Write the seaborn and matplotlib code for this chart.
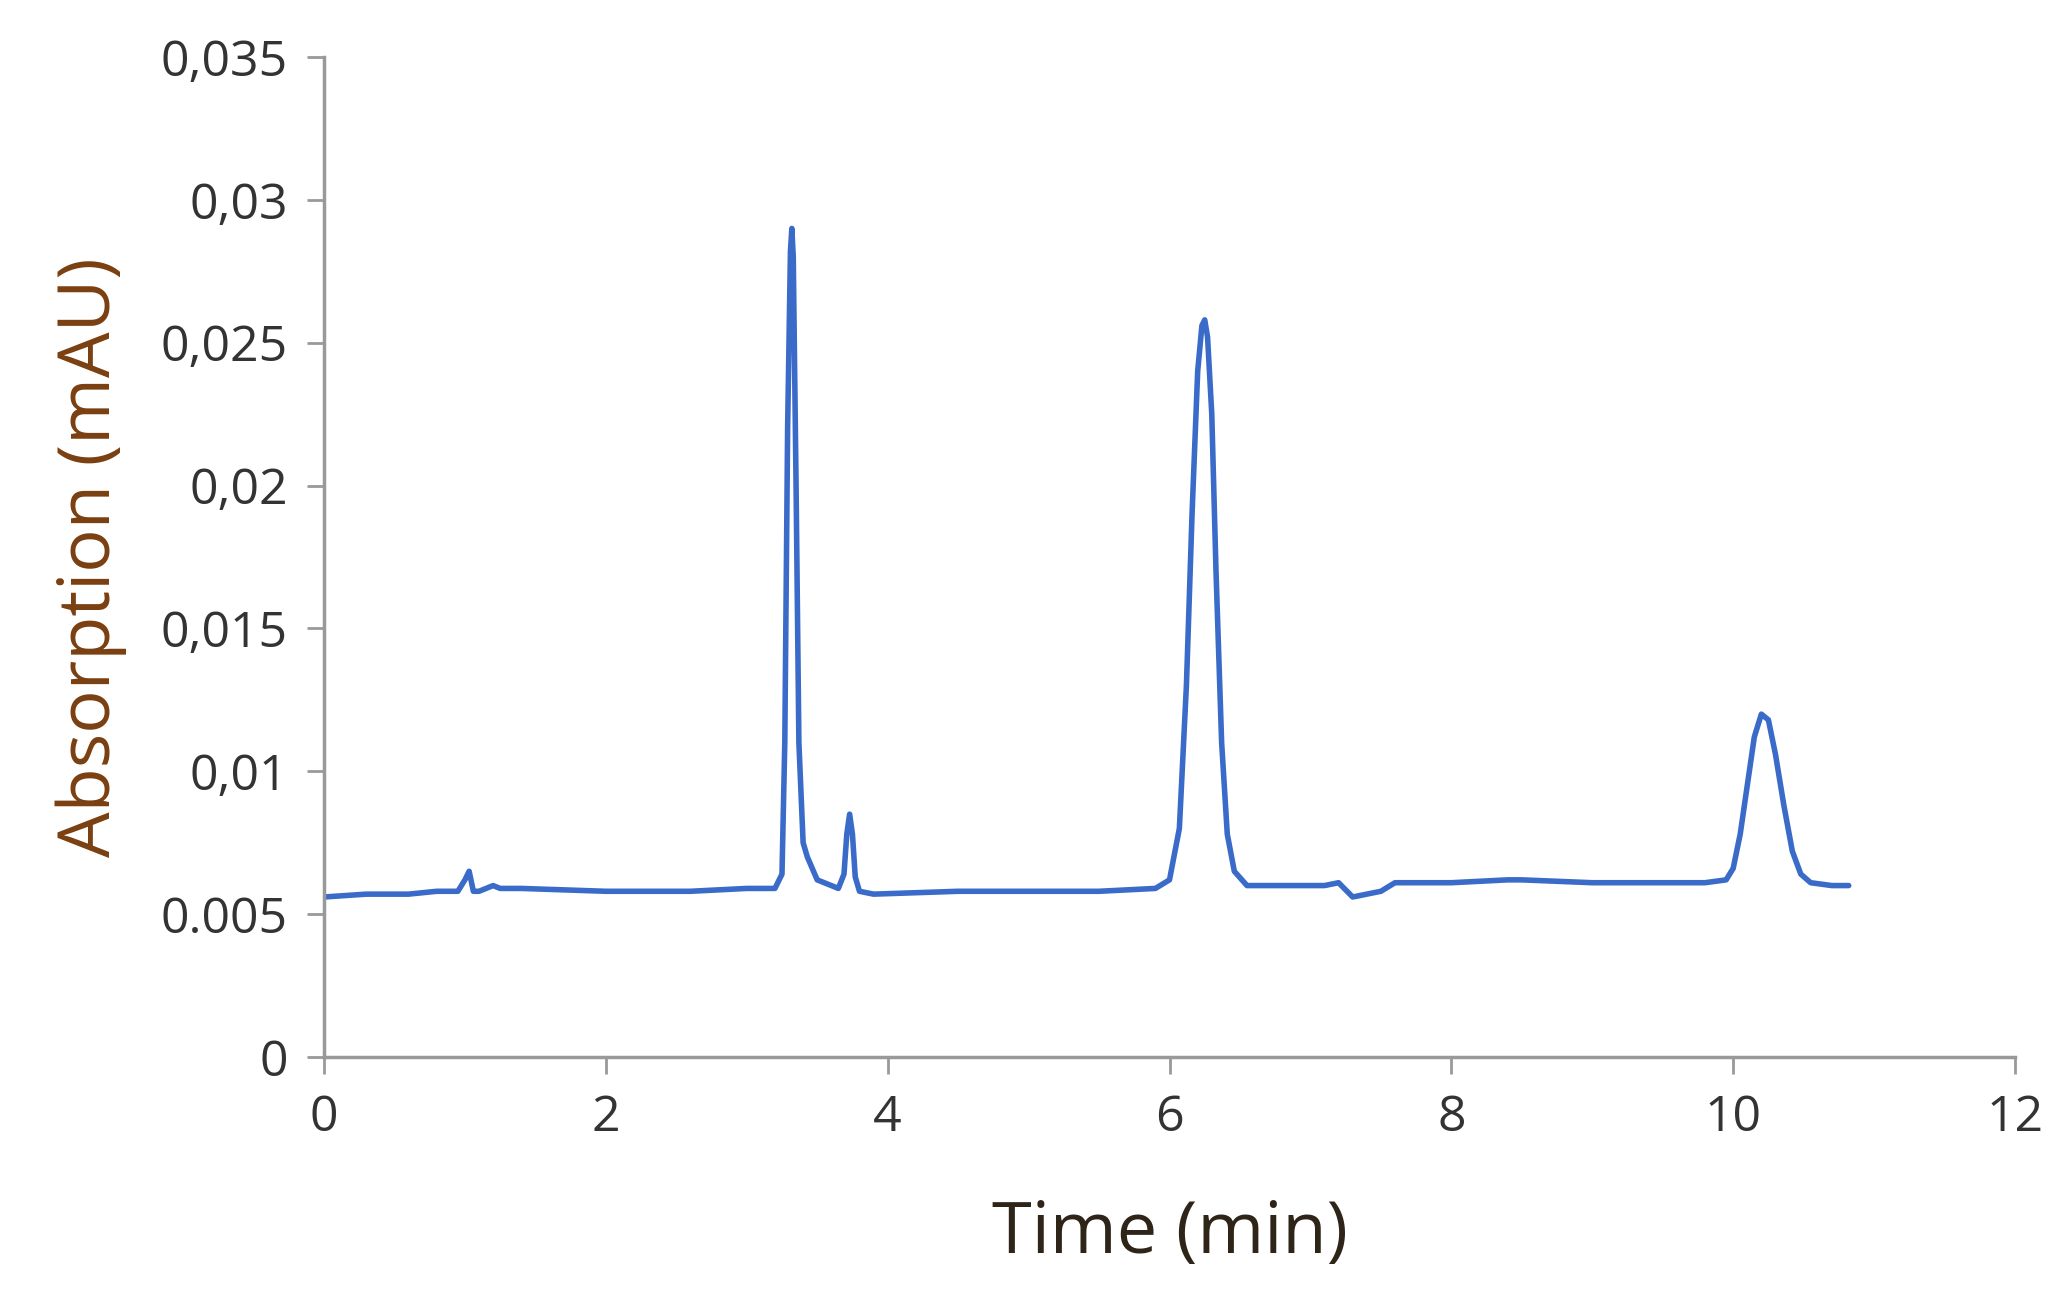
import matplotlib
matplotlib.use("Agg")
import matplotlib.pyplot as plt
import seaborn as sns
import pandas as pd

# Chromatogram trace
time_min = [0.0, 0.3, 0.6, 0.8, 0.95, 1.0, 1.03, 1.06, 1.1, 1.2, 1.25, 1.4, 2.0, 2.6, 3.0, 3.2, 3.25,
            3.27, 3.29, 3.31, 3.32, 3.33, 3.35, 3.37, 3.4, 3.43, 3.5, 3.6, 3.65, 3.69, 3.71, 3.73, 3.75,
            3.77, 3.8, 3.9,
            4.5, 5.0, 5.5, 5.9, 6.0, 6.07, 6.12, 6.16, 6.2, 6.23, 6.25, 6.27, 6.3, 6.33, 6.37, 6.41,
            6.46, 6.55, 6.8,
            7.1, 7.2, 7.3, 7.5, 7.6, 8.0, 8.4, 8.5, 9.0, 9.5, 9.8, 9.95, 10.0, 10.05, 10.1, 10.15,
            10.2, 10.25, 10.3, 10.36, 10.42, 10.48, 10.55, 10.7, 10.82]
absorb = [0.0056, 0.0057, 0.0057, 0.0058, 0.0058, 0.0062, 0.0065, 0.0058, 0.0058, 0.0060, 0.0059,
          0.0059, 0.0058, 0.0058, 0.0059, 0.0059, 0.0064,
          0.0110, 0.0220, 0.0282, 0.0290, 0.0280, 0.0200, 0.0110, 0.0075, 0.0070, 0.0062, 0.0060,
          0.0059, 0.0064, 0.0078, 0.0085, 0.0078, 0.0063, 0.0058, 0.0057,
          0.0058, 0.0058, 0.0058, 0.0059, 0.0062, 0.0080, 0.0130, 0.0190, 0.0240, 0.0256, 0.0258,
          0.0252, 0.0225, 0.0170, 0.0110, 0.0078, 0.0065, 0.0060, 0.0060,
          0.0060, 0.0061, 0.0056, 0.0058, 0.0061, 0.0061, 0.0062, 0.0062, 0.0061, 0.0061, 0.0061,
          0.0062, 0.0066, 0.0078, 0.0095, 0.0112, 0.0120, 0.0118, 0.0106, 0.0088, 0.0072, 0.0064,
          0.0061, 0.0060, 0.0060]
y_ticks = [0, 0.005, 0.01, 0.015, 0.02, 0.025, 0.03, 0.035]
y_labels = ["0", "0.005", "0,01", "0,015", "0,02", "0,025", "0,03", "0,035"]
x_ticks = [0, 2, 4, 6, 8, 10, 12]

df = pd.DataFrame({"time": time_min, "abs": absorb})

sns.set_style("white")
plt.rcParams["font.family"] = ["Open Sans", "DejaVu Sans"]

fig = plt.figure(figsize=(20.66, 13.03), dpi=100)
ax = fig.add_axes([324 / 2066, 1 - 1057 / 1303, (2015 - 324) / 2066, (1057 - 57) / 1303])
sns.lineplot(data=df, x="time", y="abs", ax=ax, color="#3a6bc9", linewidth=4)

ax.set_xlim(0, 12)
ax.set_ylim(0, 0.035)
ax.set_xticks(x_ticks)
ax.set_xticklabels([str(t) for t in x_ticks])
ax.set_yticks(y_ticks)
ax.set_yticklabels(y_labels)
ax.tick_params(axis="both", labelsize=36, length=12, width=2, direction="out",
               left=True, bottom=True, pad=14, colors="#999999", labelcolor="#333333")
for side in ["top", "right"]:
    ax.spines[side].set_visible(False)
for side in ["left", "bottom"]:
    ax.spines[side].set_color("#999999")
    ax.spines[side].set_linewidth(2.5)

ax.set_xlabel("Time (min)", fontsize=52, color="#2e2418", labelpad=40)
ax.set_ylabel("Absorption (mAU)", fontsize=52, color="#7a3f10", labelpad=24)

fig.savefig("out.png", dpi=100)
